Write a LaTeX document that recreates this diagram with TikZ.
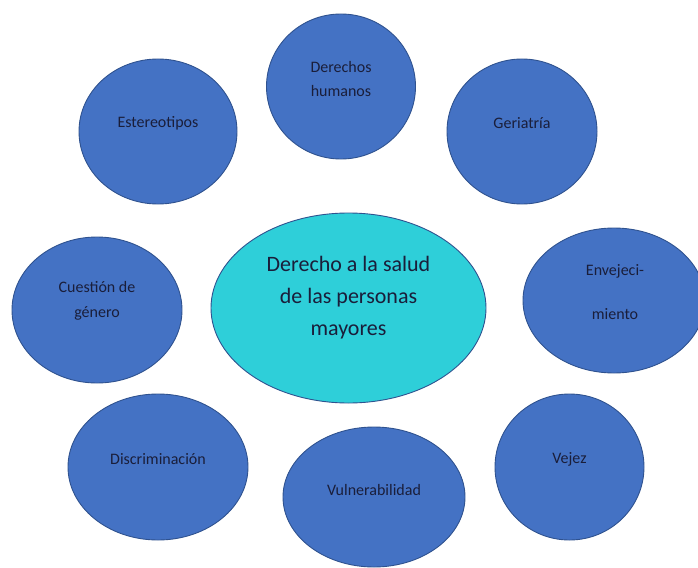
\documentclass[tikz,border=0pt]{standalone}
\usepackage{fontspec}
\setmainfont{Carlito}
\usetikzlibrary{shapes}
\definecolor{temaazul}{HTML}{4472C4}
\definecolor{temaborde}{HTML}{2F528F}
\definecolor{turquesa}{HTML}{2ECFD9}
\definecolor{textoazul}{HTML}{1A1E3A}
\tikzset{tema/.style={ellipse,draw=temaborde,fill=temaazul,line width=0.9pt,inner sep=0pt},
centro/.style={tema,fill=turquesa},
texto/.style={text=textoazul,align=center,inner sep=0pt,
font=\fontsize{16}{24}\selectfont},
textogrande/.style={texto,font=\fontsize{22}{32}\selectfont}}

\begin{document}
\begin{tikzpicture}[x=1pt,y=-1pt]
  \useasboundingbox (0,0) rectangle (698,567);
  \node (derechos) [tema,minimum width=149pt,minimum height=145pt] at (341,86.5) {};
  \node (estereo) [tema,minimum width=158pt,minimum height=145pt] at (158,131.5) {};
  \node (geri) [tema,minimum width=150pt,minimum height=145pt] at (522,131.5) {};
  \node (salud) [centro,minimum width=275pt,minimum height=190pt] at (348.5,308) {};
  \node (enve) [tema,minimum width=182pt,minimum height=145pt] at (614,300.5) {};
  \node (genero) [tema,minimum width=170pt,minimum height=146pt] at (97,310) {};
  \node (discri) [tema,minimum width=180pt,minimum height=146pt] at (158,467) {};
  \node (vulne) [tema,minimum width=182pt,minimum height=140pt] at (374,497) {};
  \node (vejez) [tema,minimum width=149pt,minimum height=146pt] at (569.5,467) {};
  % textos
  \node (derechos-t) [texto] at ([yshift=7.5pt]derechos.center) {Derechos\\humanos};
  \node (estereo-t) [texto] at ([yshift=8pt]estereo.center) {Estereotipos};
  \node (geri-t) [texto] at ([yshift=8pt]geri.center) {Geriatría};
  \node (salud-t) [textogrande] at ([yshift=10pt]salud.center) {Derecho a la salud\\de las personas\\mayores};
  \node (enve-t) [texto,font=\fontsize{16}{44}\selectfont] at ([xshift=1pt,yshift=8pt]enve.center) {Envejeci-\\miento};
  \node (genero-t) [texto,font=\fontsize{16}{25}\selectfont] at ([yshift=9.5pt]genero.center) {Cuestión de\\género};
  \node (discri-t) [texto] at ([yshift=8pt]discri.center) {Discriminación};
  \node (vulne-t) [texto] at ([yshift=7pt]vulne.center) {Vulnerabilidad};
  \node (vejez-t) [texto] at ([yshift=8pt]vejez.center) {Vejez};
\end{tikzpicture}
\end{document}
